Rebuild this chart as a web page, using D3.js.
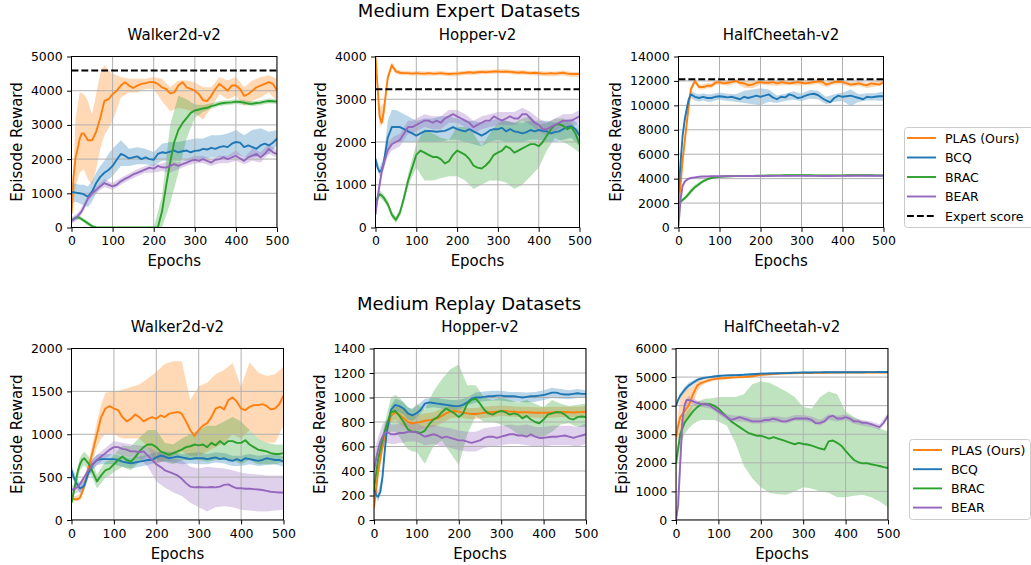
<!DOCTYPE html>
<html>
<head>
<meta charset="utf-8">
<style>
  body { margin: 0; background: #fff; }
  svg { display: block; font-family: 'DejaVu Sans', sans-serif; }
</style>
</head>
<body>
<svg width="1031" height="565"></svg>

<script src="https://d3js.org/d3.v7.min.js"></script>
<script>
// epochs for the mean curves, and a coarser grid for the shaded bands
const epochs = [0,5,10,15,20,25,30,40,50,60,70,80,90,100,110,120,130,140,150,160,170,180,190,200,210,220,230,240,250,260,270,280,290,300,310,320,330,340,350,360,370,380,390,400,410,420,430,440,450,460,470,480,490,500];
const bandEpochs = [0,10,20,30,40,50,60,70,80,90,100,120,140,160,180,200,220,240,260,280,300,320,340,360,380,400,420,440,460,480,500];
const xTicks = [0,100,200,300,400,500];

const algoNames = ["PLAS (Ours)", "BCQ", "BRAC", "BEAR"];
const algoColors = ["#ff7f0e", "#1f77b4", "#2ca02c", "#9467bd"];

// ---------- Medium Expert: Walker2d ----------
const walkerME_yTicks = [0,1000,2000,3000,4000,5000];
const walkerME_expert = 4592;
const walkerME_plas = [400,1500,2050,2300,2600,2750,2750, 2550,2550,2800,3200,3700,3750, 3900,4000,4150,4250,4150,4080,4150,4200,4220,4250, 4250,4200,4100,4050,3920,3950,4150,4250,4100,4050, 4000,3900,3720,3700,3850,4050,4200,4100,4000,4150, 4150,4050,3850,3900,4000,4100,4150,4200,4250,4200, 4000];
const walkerME_plas_lo = [300,1200,1600,1700,1400,1250,1700,2300,2700,2900,3100, 3800,3950,3950,4050,4050,3700,3400,3500,3450,3350, 3150,3500,3900,3750,3850,3550,3700,3800,3950,3700];
const walkerME_plas_hi = [500,3200,3950,3900,3700,3300,3900,4500,4750,4600,4500, 4400,4350,4350,4350,4400,4350,4100,4300,4300,4250, 4100,4100,4400,4300,4400,4100,4300,4400,4450,4350];
const walkerME_bcq = [1030,1030,1020,1010,1000,990,970, 900,1050,1300,1480,1600,1680, 1800,1980,2150,2100,2020,2050,2080,2000,2050,2000, 1980,2150,2200,2180,2220,2250,2200,2230,2250,2200, 2240,2250,2300,2280,2330,2300,2350,2380,2350,2450, 2500,2480,2350,2400,2350,2300,2400,2450,2400,2480, 2600];
const walkerME_bcq_lo = [700,750,700,650,600,750,1000,1200,1300,1400,1500, 1800,1800,1850,1850,1800,1950,1950,1950,1950,1950, 2000,2050,2050,2050,2150,2050,2050,2100,2150,2400];
const walkerME_bcq_hi = [1300,1280,1250,1250,1200,1350,1600,1800,1950,2150,2300, 2550,2300,2350,2300,2200,2450,2500,2500,2550,2600, 2600,2700,2700,2750,2850,2700,2850,2900,2800,2850];
const walkerME_brac = [200,250,290,300,280,240,200, 120,40,0,0,0,0, 0,0,0,0,0,0,0,0,0,0, 0,0,450,1200,1900,2500,2850,3050,3200,3350, 3420,3450,3480,3500,3550,3580,3620,3640,3650,3660, 3680,3670,3650,3620,3620,3640,3650,3680,3700,3690, 3680];
const walkerME_brac_lo = [150,230,220,150,60,0,0,0,0,0,0, 0,0,0,0,0,0,700,1600,2600,3200, 3380,3470,3550,3580,3610,3580,3550,3580,3630,3610];
const walkerME_brac_hi = [260,340,340,260,180,90,20,0,0,0,0, 0,0,0,0,0,900,3000,3850,3750,3600, 3580,3630,3700,3720,3750,3720,3690,3720,3770,3750];
const walkerME_bear = [200,230,280,330,400,480,600, 850,1000,1100,1200,1300,1250, 1200,1250,1350,1420,1480,1550,1600,1650,1700,1750, 1720,1800,1760,1750,1800,1850,1800,1850,1900,1950, 1980,1950,2000,1950,1900,1980,2000,2050,2000,2050, 2100,2020,1950,2050,2100,2150,2050,2150,2300,2200, 2150];
const walkerME_bear_lo = [100,180,300,500,750,900,1000,1100,1180,1150,1100, 1250,1380,1500,1600,1600,1650,1600,1700,1800,1870, 1880,1800,1880,1880,1950,1850,1950,1900,2150,2050];
const walkerME_bear_hi = [300,380,500,700,950,1100,1200,1300,1420,1350,1300, 1450,1580,1700,1800,1850,1870,1950,1900,2000,2100, 2100,2000,2100,2100,2250,2050,2300,2200,2450,2250];

// ---------- Medium Expert: Hopper ----------
const hopperME_yTicks = [0,1000,2000,3000,4000];
const hopperME_expert = 3234;
const hopperME_plas = [4000,3300,2600,2450,2700,3100,3500, 3800,3650,3620,3610,3610,3600, 3610,3600,3600,3610,3600,3600,3610,3600,3590,3600, 3600,3610,3620,3630,3620,3630,3640,3630,3640,3650, 3650,3640,3650,3640,3630,3620,3630,3620,3610,3620, 3610,3600,3600,3610,3600,3610,3620,3600,3590,3590, 3590];
const hopperME_plas_lo = [3900,2350,2450,3400,3720,3590,3570,3560,3560,3550,3560, 3550,3550,3560,3530,3540,3570,3570,3590,3590,3600, 3600,3580,3580,3560,3550,3540,3540,3560,3520,3520];
const hopperME_plas_hi = [4100,2800,2900,3600,3870,3710,3670,3660,3660,3650,3660, 3650,3650,3660,3640,3650,3670,3670,3690,3690,3700, 3700,3680,3680,3660,3660,3650,3650,3670,3640,3640];
const hopperME_bcq = [1600,1400,1300,1350,1500,1800,2100, 2350,2350,2350,2300,2250,2200, 2150,2200,2250,2260,2250,2240,2250,2260,2300,2350, 2300,2270,2250,2300,2250,2200,2150,2200,2270,2300, 2300,2330,2250,2300,2250,2230,2200,2230,2280,2250, 2280,2260,2250,2200,2230,2250,2300,2350,2370,2300, 2150];
const hopperME_bcq_lo = [1500,1200,1350,1800,2000,2000,2000,2000,2000,2000,2000, 2000,2000,2000,2050,2050,2000,1950,1900,2000,2050, 2000,2000,2000,2050,2050,2000,2000,2050,2100,1900];
const hopperME_bcq_hi = [1700,1400,1650,2500,2750,2750,2700,2650,2600,2550,2500, 2550,2550,2600,2600,2550,2500,2500,2450,2500,2550, 2500,2450,2450,2500,2500,2500,2450,2500,2550,2400];
const hopperME_brac = [500,700,780,750,700,620,550, 300,180,350,700,1100,1400, 1700,1800,1750,1700,1650,1650,1600,1500,1550,1700, 1800,1750,1700,1600,1450,1400,1380,1450,1550,1700, 1750,1800,1900,1850,1750,1800,1850,1900,1950,1950, 1900,2000,2150,2300,2400,2420,2380,2300,2350,2200, 1950];
const hopperME_brac_lo = [420,700,620,470,220,100,270,600,950,1200,1400, 1100,1100,1150,1200,1200,1100,900,1000,1100,1100, 1050,900,1000,1200,1400,1800,2100,2000,1900,1750];
const hopperME_brac_hi = [600,880,780,630,380,260,430,800,1250,1600,1950, 2300,2200,2100,2050,2350,2350,2200,1900,2200,2450, 2500,2450,2550,2600,2400,2450,2550,2550,2450,2250];
const hopperME_bear = [300,700,1000,1300,1500,1650,1800, 1950,2000,2050,2200,2350,2350, 2400,2450,2500,2500,2450,2500,2450,2550,2600,2650, 2600,2550,2500,2450,2350,2400,2450,2500,2500,2600, 2550,2500,2550,2600,2550,2550,2650,2650,2550,2450, 2400,2300,2300,2350,2400,2450,2500,2500,2500,2550, 2600];
const hopperME_bear_lo = [200,900,1350,1650,1800,1850,1900,2050,2200,2200,2250, 2350,2300,2300,2450,2450,2350,2200,2300,2350,2400, 2400,2400,2500,2400,2250,2150,2250,2350,2350,2450];
const hopperME_bear_hi = [400,1100,1650,1950,2100,2150,2200,2350,2500,2500,2550, 2650,2600,2600,2750,2750,2650,2500,2600,2650,2700, 2700,2700,2800,2700,2550,2450,2550,2650,2650,2750];

// ---------- Medium Expert: HalfCheetah ----------
const cheetahME_yTicks = [0,2000,4000,6000,8000,10000,12000,14000];
const cheetahME_expert = 12135;
const cheetahME_plas = [1800,3500,5500,7000,8500,10000,11300, 12000,11500,11500,11600,11600,11850, 11900,11800,11850,11900,12000,11850,11800,11650,11700,11850, 11900,11850,11850,11900,11800,11900,11850,11800,11850,11900, 11850,11800,11850,11900,11950,11950,11700,11800,11900,11950, 11900,11800,11700,11750,11800,11700,11650,11800,11750,11700, 11900];
const cheetahME_plas_lo = [1500,5000,8000,11000,11800,11300,11300,11400,11400,11650,11700, 11600,11800,11450,11400,11700,11650,11600,11650,11650,11650, 11650,11750,11500,11700,11700,11500,11600,11400,11550,11700];
const cheetahME_plas_hi = [2100,6000,9000,11600,12100,11700,11700,11800,11800,12050,12100, 12050,12150,12000,11950,12050,12050,12000,12050,12050,12050, 12050,12150,11900,12100,12100,11900,12000,11850,11950,12100];
const cheetahME_bcq = [2800,5300,7500,8800,9700,10500,10900, 10700,10600,10700,10600,10600,10700, 10750,10700,10650,10700,10600,10500,10700,10600,10700,10800, 10700,10800,10900,10650,10500,10700,10650,10900,10800,10600, 10650,10800,10900,10950,10850,10600,10400,10250,10600,10800, 10700,10750,10800,10700,10600,10500,10700,10650,10700,10750, 10750];
const cheetahME_bcq_lo = [2600,7200,9400,10600,10400,10300,10400,10300,10300,10400,10450, 10350,10300,10200,10100,10000,10300,10200,10350,10450,10350, 10550,10500,10100,10300,10350,9950,10300,10400,10400,10350];
const cheetahME_bcq_hi = [3000,7800,10000,11200,11000,10900,11000,10900,10900,11000,11050, 10950,10900,11200,11300,11400,11300,10800,10950,11150,10950, 11250,11200,10700,10900,11050,11300,10900,11000,11000,11150];
const cheetahME_brac = [2000,2100,2250,2400,2550,2750,2950, 3300,3550,3780,3950,4050,4100, 4150,4180,4200,4200,4210,4220,4220,4230,4230,4240, 4250,4250,4260,4260,4270,4270,4280,4280,4290,4290, 4290,4280,4280,4270,4260,4260,4260,4260,4260,4270, 4270,4280,4280,4290,4290,4290,4280,4280,4270,4270, 4270];
const cheetahME_brac_lo = [1900,2100,2400,2750,3150,3400,3650,3850,3970,4030,4080, 4130,4140,4150,4160,4180,4200,4210,4220,4220,4220, 4210,4190,4190,4190,4200,4210,4220,4210,4200,4200];
const cheetahME_brac_hi = [2100,2400,2750,3200,3500,3700,3900,4050,4130,4170,4220, 4270,4280,4290,4300,4320,4330,4340,4360,4360,4360, 4350,4330,4330,4330,4340,4350,4360,4350,4340,4340];
const cheetahME_bear = [100,2300,3400,3750,3900,4000,4050, 4100,4150,4170,4180,4190,4190, 4200,4200,4200,4210,4210,4210,4220,4220,4220,4220, 4220,4220,4220,4230,4230,4230,4230,4230,4230,4230, 4230,4230,4230,4230,4230,4220,4220,4220,4230,4230, 4230,4230,4240,4240,4240,4240,4240,4240,4240,4240, 4240];
const cheetahME_bear_lo = [0,3300,3800,3980,4040,4090,4110,4120,4130,4130,4140, 4140,4150,4160,4160,4160,4170,4170,4170,4170,4170, 4170,4170,4160,4170,4170,4180,4180,4180,4180,4180];
const cheetahME_bear_hi = [200,3500,3950,4100,4160,4210,4230,4240,4250,4250,4260, 4260,4270,4280,4280,4280,4290,4290,4290,4290,4290, 4290,4290,4280,4290,4290,4300,4300,4300,4300,4300];

// ---------- Medium Replay: Walker2d ----------
const walkerMR_yTicks = [0,500,1000,1500,2000];
const walkerMR_plas = [250,245,240,245,260,320,400, 600,800,1000,1200,1300,1330, 1300,1280,1200,1150,1180,1230,1200,1150,1180,1200, 1180,1220,1200,1240,1250,1260,1240,1150,1050,980, 1050,1100,1130,1200,1300,1320,1290,1400,1430,1380, 1300,1280,1320,1340,1340,1350,1330,1290,1300,1350, 1450];
const walkerMR_plas_lo = [220,220,230,350,550,700,850,950,1000,1000,1000, 950,950,950,850,650,700,750,800,750,750, 800,850,900,1000,950,1050,950,900,900,1100];
const walkerMR_plas_hi = [280,280,300,450,680,900,1150,1350,1480,1500,1500, 1520,1550,1580,1650,1730,1820,1850,1850,1400,1560, 1600,1700,1750,1830,1550,1840,1720,1680,1700,1790];
const walkerMR_bcq = [580,500,450,400,370,380,400, 550,650,700,710,710,710, 710,700,680,670,660,670,680,690,700,700, 730,750,740,720,730,740,730,720,710,720, 720,720,710,720,730,710,720,700,690,710, 690,720,710,700,690,700,720,710,700,700, 680];
const walkerMR_bcq_lo = [520,400,310,340,490,590,640,650,650,650,650, 620,600,620,640,670,680,670,650,660,650, 650,670,660,630,630,650,630,640,650,620];
const walkerMR_bcq_hi = [640,510,430,460,610,710,760,770,770,770,770, 740,720,740,760,790,800,790,770,780,790, 770,790,780,750,750,770,750,760,770,740];
const walkerMR_brac = [200,320,450,570,650,700,720, 660,560,450,520,580,600, 650,700,740,700,680,730,800,850,880,880, 850,800,780,760,780,800,820,850,860,880, 870,880,850,900,870,920,880,920,920,900, 900,930,880,850,820,810,800,780,770,770, 780];
const walkerMR_brac_lo = [150,380,580,640,580,480,370,430,500,520,560, 620,580,680,750,700,680,650,700,700,700, 680,700,700,700,650,700,650,650,650,680];
const walkerMR_brac_hi = [250,520,730,800,740,660,530,610,680,700,760, 870,860,960,1050,1050,900,880,950,1000,1050, 1100,1100,1150,1200,1150,1050,950,900,880,880];
const walkerMR_bear = [350,360,370,390,420,460,500, 580,650,700,740,780,820, 850,850,830,820,800,800,790,800,750,700, 650,620,580,560,540,520,480,430,390,380, 385,380,380,385,380,390,410,415,390,370, 370,365,365,360,355,350,340,330,325,320, 320];
const walkerMR_bear_lo = [300,310,330,390,520,590,640,680,720,750,780, 750,730,720,620,450,380,320,280,200,150, 100,150,160,150,120,110,100,100,110,120];
const walkerMR_bear_hi = [400,420,440,520,640,710,760,800,840,880,920, 900,880,870,850,800,760,720,700,620,600, 620,610,600,580,550,540,530,520,520,520];

// ---------- Medium Replay: Hopper ----------
const hopperMR_yTicks = [0,200,400,600,800,1000,1200,1400];
const hopperMR_plas = [100,250,400,500,600,680,740, 850,880,860,830,800,790, 795,800,810,815,820,830,850,870,885,890, 885,875,870,865,865,870,875,880,880,885, 890,890,885,885,880,880,880,878,875,875, 875,875,878,880,880,882,880,878,880,882, 885];
const hopperMR_plas_lo = [60,350,550,700,800,820,790,760,740,730,730, 750,760,790,830,840,825,825,835,840,850, 845,840,840,835,830,835,840,840,840,840];
const hopperMR_plas_hi = [140,450,650,780,900,940,930,900,870,860,860, 870,880,910,930,930,915,915,925,930,935, 930,925,925,920,920,925,925,925,925,930];
const hopperMR_bcq = [260,200,190,230,350,550,720, 900,940,930,910,870,855, 870,900,950,960,955,950,945,940,935,930, 930,940,960,990,1000,1000,1005,1010,1010,1015, 1015,1010,1010,1010,1005,1000,1005,1010,1010,1015, 1020,1030,1040,1040,1030,1025,1025,1030,1035,1030, 1030];
const hopperMR_bcq_lo = [220,150,300,690,870,890,880,860,820,810,830, 910,920,910,900,900,935,960,970,975,975, 965,965,960,965,980,995,990,985,995,1000];
const hopperMR_bcq_hi = [300,230,380,750,930,990,980,960,920,910,930, 990,1000,990,980,980,1000,1040,1050,1055,1055, 1045,1045,1040,1045,1060,1080,1070,1060,1070,1060];
const hopperMR_brac = [250,380,500,580,650,720,780, 880,890,850,800,740,720, 720,710,730,780,820,840,880,910,890,870, 840,870,950,980,990,950,900,870,860,880, 890,880,860,870,860,830,850,820,800,790, 820,860,870,880,880,860,830,820,840,845, 840];
const hopperMR_brac_lo = [200,450,600,700,720,720,680,620,580,560,560, 460,600,650,550,450,700,850,800,800,780, 750,700,680,680,680,720,780,790,760,760];
const hopperMR_brac_hi = [300,550,700,860,1000,1020,1000,960,920,900,950, 900,1050,1150,1230,1270,1100,1100,1000,980,1000, 980,960,980,950,920,980,950,930,940,950];
const hopperMR_bear = [400,500,580,640,680,710,720, 700,700,710,710,720,720, 715,700,680,690,700,690,670,680,670,660, 650,650,640,630,640,650,670,680,680,670, 680,690,700,700,690,690,680,700,680,670, 670,675,680,680,685,690,680,670,680,690, 700];
const hopperMR_bear_lo = [250,480,580,630,620,620,630,630,640,640,640, 610,620,600,590,570,560,560,590,600,610, 620,620,610,600,600,610,610,610,600,620];
const hopperMR_bear_hi = [550,680,780,820,780,780,790,790,800,800,790, 760,780,760,750,730,720,720,750,760,770, 780,770,780,760,760,770,770,770,760,790];

// ---------- Medium Replay: HalfCheetah ----------
const cheetahMR_yTicks = [0,1000,2000,3000,4000,5000,6000];
const cheetahMR_plas = [2900,3300,3600,3700,3800,3900,4000, 4400,4700,4800,4850,4900,4930, 4950,4960,4970,4980,4990,5000,5000,5010,5030,5050, 5080,5090,5100,5110,5120,5120,5130,5130,5140,5140, 5140,5145,5145,5150,5150,5150,5155,5155,5160,5160, 5160,5160,5160,5160,5160,5160,5160,5160,5160,5160, 5160];
const cheetahMR_plas_lo = [2700,3000,3300,3600,4000,4500,4700,4780,4830,4870,4900, 4930,4950,4960,4990,5040,5060,5080,5100,5100,5110, 5115,5120,5125,5130,5130,5130,5130,5130,5130,5130];
const cheetahMR_plas_hi = [3100,4300,4500,4600,4700,4850,4880,4920,4960,4990,5000, 5020,5030,5040,5070,5120,5140,5160,5180,5180,5180, 5180,5180,5185,5190,5190,5190,5190,5190,5190,5190];
const cheetahMR_bcq = [4000,4200,4350,4450,4550,4630,4700, 4800,4900,4950,4980,5000,5020, 5040,5050,5060,5065,5070,5075,5080,5090,5100,5110, 5120,5120,5125,5130,5135,5140,5140,5145,5150,5155, 5160,5160,5160,5165,5165,5170,5170,5170,5170,5170, 5170,5170,5170,5170,5170,5175,5175,5175,5180,5180, 5180];
const cheetahMR_bcq_lo = [3920,4270,4450,4600,4720,4840,4900,4940,4960,4980,5000, 5020,5030,5040,5050,5080,5090,5100,5110,5120,5125, 5130,5135,5135,5135,5140,5140,5140,5145,5150,5150];
const cheetahMR_bcq_hi = [4080,4430,4650,4800,4880,4960,5000,5020,5040,5060,5080, 5100,5110,5120,5130,5160,5170,5180,5190,5190,5195, 5195,5205,5205,5205,5200,5200,5210,5205,5210,5210];
const cheetahMR_brac = [2000,2500,3000,3200,3400,3500,3600, 3800,3950,4050,4050,4050,4000, 3900,3750,3600,3450,3350,3250,3150,3050,3000,2950, 2950,2900,2850,2900,2850,2800,2750,2700,2650,2700, 2660,2640,2600,2550,2500,2460,2750,2780,2700,2600, 2420,2250,2100,2020,1980,1990,1950,1920,1890,1850, 1820];
const cheetahMR_brac_lo = [1700,2600,3000,3200,3350,3450,3500,3500,3500,3500,3450, 3300,2700,1900,1450,1150,950,900,880,1000,1150, 1100,1000,950,800,800,850,880,800,650,450];
const cheetahMR_brac_hi = [2300,3200,3700,3900,4050,4150,4200,4250,4250,4280,4300, 4300,4300,4400,4750,4850,4800,4650,4500,4300,3950, 3900,4300,4500,4400,3800,3600,3450,3300,3200,3100];
const cheetahMR_bear = [0,500,2000,3500,4000,4200,4200, 4150,4100,4050,4050,4000,3900, 3800,3700,3600,3500,3550,3600,3550,3500,3450,3450, 3450,3500,3500,3550,3500,3450,3450,3500,3550,3550, 3550,3550,3500,3380,3400,3450,3600,3650,3550,3550, 3600,3550,3450,3450,3400,3400,3350,3300,3250,3400, 3650];
const cheetahMR_bear_lo = [0,1500,3800,4050,4050,3980,3950,3930,3900,3820,3700, 3500,3450,3450,3380,3380,3420,3420,3380,3470,3470, 3420,3300,3500,3450,3500,3370,3300,3250,3150,3550];
const cheetahMR_bear_hi = [100,2500,4100,4350,4250,4180,4150,4130,4100,4020,3900, 3700,3650,3650,3580,3580,3620,3620,3580,3670,3670, 3620,3500,3700,3650,3700,3570,3500,3450,3350,3750];

// ---------- layout ----------
const svg = d3.select("svg");

function series(m, lo, hi) { return { mean: m, lo: lo, hi: hi }; }

const panels = [
  { title: "Walker2d-v2", left: 71.5, right: 277, top: 56.5, bottom: 227.5, yTicks: walkerME_yTicks, expert: walkerME_expert,
    series: [series(walkerME_plas, walkerME_plas_lo, walkerME_plas_hi), series(walkerME_bcq, walkerME_bcq_lo, walkerME_bcq_hi),
             series(walkerME_brac, walkerME_brac_lo, walkerME_brac_hi), series(walkerME_bear, walkerME_bear_lo, walkerME_bear_hi)] },
  { title: "Hopper-v2", left: 375.5, right: 579.5, top: 56.5, bottom: 227.5, yTicks: hopperME_yTicks, expert: hopperME_expert,
    series: [series(hopperME_plas, hopperME_plas_lo, hopperME_plas_hi), series(hopperME_bcq, hopperME_bcq_lo, hopperME_bcq_hi),
             series(hopperME_brac, hopperME_brac_lo, hopperME_brac_hi), series(hopperME_bear, hopperME_bear_lo, hopperME_bear_hi)] },
  { title: "HalfCheetah-v2", left: 678.5, right: 883.5, top: 56.5, bottom: 227.5, yTicks: cheetahME_yTicks, expert: cheetahME_expert,
    series: [series(cheetahME_plas, cheetahME_plas_lo, cheetahME_plas_hi), series(cheetahME_bcq, cheetahME_bcq_lo, cheetahME_bcq_hi),
             series(cheetahME_brac, cheetahME_brac_lo, cheetahME_brac_hi), series(cheetahME_bear, cheetahME_bear_lo, cheetahME_bear_hi)] },
  { title: "Walker2d-v2", left: 71.5, right: 283.5, top: 348.5, bottom: 520, yTicks: walkerMR_yTicks, expert: null,
    series: [series(walkerMR_plas, walkerMR_plas_lo, walkerMR_plas_hi), series(walkerMR_bcq, walkerMR_bcq_lo, walkerMR_bcq_hi),
             series(walkerMR_brac, walkerMR_brac_lo, walkerMR_brac_hi), series(walkerMR_bear, walkerMR_bear_lo, walkerMR_bear_hi)] },
  { title: "Hopper-v2", left: 374, right: 586, top: 348.5, bottom: 520, yTicks: hopperMR_yTicks, expert: null,
    series: [series(hopperMR_plas, hopperMR_plas_lo, hopperMR_plas_hi), series(hopperMR_bcq, hopperMR_bcq_lo, hopperMR_bcq_hi),
             series(hopperMR_brac, hopperMR_brac_lo, hopperMR_brac_hi), series(hopperMR_bear, hopperMR_bear_lo, hopperMR_bear_hi)] },
  { title: "HalfCheetah-v2", left: 676, right: 888, top: 348.5, bottom: 520, yTicks: cheetahMR_yTicks, expert: null,
    series: [series(cheetahMR_plas, cheetahMR_plas_lo, cheetahMR_plas_hi), series(cheetahMR_bcq, cheetahMR_bcq_lo, cheetahMR_bcq_hi),
             series(cheetahMR_brac, cheetahMR_brac_lo, cheetahMR_brac_hi), series(cheetahMR_bear, cheetahMR_bear_lo, cheetahMR_bear_hi)] }
];

function drawPanel(p, idx) {
  const x = d3.scaleLinear().domain([0, 500]).range([p.left, p.right]);
  const y = d3.scaleLinear().domain([0, d3.max(p.yTicks)]).range([p.bottom, p.top]);
  const g = svg.append("g");

  svg.append("clipPath").attr("id", "clip" + idx)
    .append("rect")
    .attr("x", p.left).attr("y", p.top)
    .attr("width", p.right - p.left).attr("height", p.bottom - p.top);

  const plot = g.append("g").attr("clip-path", "url(#clip" + idx + ")");

  // shaded bands
  const area = d3.area()
    .x((d, i) => x(bandEpochs[i]))
    .y0(d => y(d[0]))
    .y1(d => y(d[1]));
  p.series.forEach((s, k) => {
    plot.append("path")
      .datum(d3.zip(s.lo, s.hi))
      .attr("d", area)
      .attr("fill", algoColors[k])
      .attr("fill-opacity", 0.3)
      .attr("stroke", "none");
  });

  // grid
  plot.selectAll(".gx").data(xTicks).join("line")
    .attr("x1", d => x(d)).attr("x2", d => x(d))
    .attr("y1", p.top).attr("y2", p.bottom)
    .attr("stroke", "#b0b0b0").attr("stroke-width", 1);
  plot.selectAll(".gy").data(p.yTicks).join("line")
    .attr("x1", p.left).attr("x2", p.right)
    .attr("y1", d => y(d)).attr("y2", d => y(d))
    .attr("stroke", "#b0b0b0").attr("stroke-width", 1);

  // mean curves
  const line = d3.line()
    .x((d, i) => x(epochs[i]))
    .y(d => y(d));
  p.series.forEach((s, k) => {
    plot.append("path")
      .datum(s.mean)
      .attr("d", line)
      .attr("fill", "none")
      .attr("stroke", algoColors[k])
      .attr("stroke-width", 1.9)
      .attr("stroke-linejoin", "round");
  });

  if (p.expert) {
    plot.append("line")
      .attr("x1", p.left).attr("x2", p.right)
      .attr("y1", y(p.expert)).attr("y2", y(p.expert))
      .attr("stroke", "#000").attr("stroke-width", 1.9)
      .attr("stroke-dasharray", "6.9,3");
  }

  // spines
  g.append("rect")
    .attr("x", p.left).attr("y", p.top)
    .attr("width", p.right - p.left).attr("height", p.bottom - p.top)
    .attr("fill", "none").attr("stroke", "#000").attr("stroke-width", 1);

  // axes
  const xAxis = g.append("g")
    .attr("transform", `translate(0,${p.bottom})`)
    .call(d3.axisBottom(x).tickValues(xTicks).tickSize(4.4).tickPadding(4.4));
  const yAxis = g.append("g")
    .attr("transform", `translate(${p.left},0)`)
    .call(d3.axisLeft(y).tickValues(p.yTicks).tickSize(4.4).tickPadding(4.4).tickFormat(d3.format("d")));
  [xAxis, yAxis].forEach(a => {
    a.select(".domain").remove();
    a.attr("font-family", "'DejaVu Sans', sans-serif").attr("font-size", 12.5);
    a.selectAll(".tick line").attr("stroke", "#000").attr("stroke-width", 1);
    a.selectAll(".tick text").attr("fill", "#000");
  });

  // labels
  const cx = (p.left + p.right) / 2;
  g.append("text")
    .attr("x", cx).attr("y", p.top - 16.5)
    .attr("text-anchor", "middle").attr("font-size", 15)
    .text(p.title);
  g.append("text")
    .attr("x", cx).attr("y", p.bottom + 38.5)
    .attr("text-anchor", "middle").attr("font-size", 15)
    .text("Epochs");

  const tickLeft = yAxis.node().getBBox().x + p.left;
  const lx = tickLeft - 5 - 3.6;
  g.append("text")
    .attr("transform", `translate(${lx},${(p.top + p.bottom) / 2}) rotate(-90)`)
    .attr("text-anchor", "middle").attr("font-size", 15)
    .text("Episode Reward");
}

panels.forEach(drawPanel);

// suptitles
svg.append("text").attr("x", 469).attr("y", 17).attr("text-anchor", "middle")
  .attr("font-size", 18).text("Medium Expert Datasets");
svg.append("text").attr("x", 469).attr("y", 309.5).attr("text-anchor", "middle")
  .attr("font-size", 18).text("Medium Replay Datasets");

// legends
function drawLegend(bx, by, bw, bh, lx, tx, y0, step, withExpert) {
  const lg = svg.append("g");
  lg.append("rect")
    .attr("x", bx).attr("y", by).attr("width", bw).attr("height", bh)
    .attr("rx", 3)
    .attr("fill", "#fff").attr("fill-opacity", 0.8)
    .attr("stroke", "#cccccc").attr("stroke-width", 1);
  const items = algoNames.map((n, i) => ({ name: n, color: algoColors[i], dash: null }));
  if (withExpert) items.push({ name: "Expert score", color: "#000", dash: "6.9,3" });
  items.forEach((it, i) => {
    const yy = y0 + i * step;
    lg.append("line")
      .attr("x1", lx).attr("x2", lx + 29)
      .attr("y1", yy).attr("y2", yy)
      .attr("stroke", it.color).attr("stroke-width", 1.9)
      .attr("stroke-dasharray", it.dash);
    lg.append("text")
      .attr("x", tx).attr("y", yy + 4.5)
      .attr("font-size", 12.5)
      .text(it.name);
  });
}

drawLegend(904.5, 127.5, 132, 100, 907, 945, 138, 19.5, true);
drawLegend(909.5, 439.5, 121, 80, 913, 951, 450, 19.2, false);
</script>
</body>
</html>
